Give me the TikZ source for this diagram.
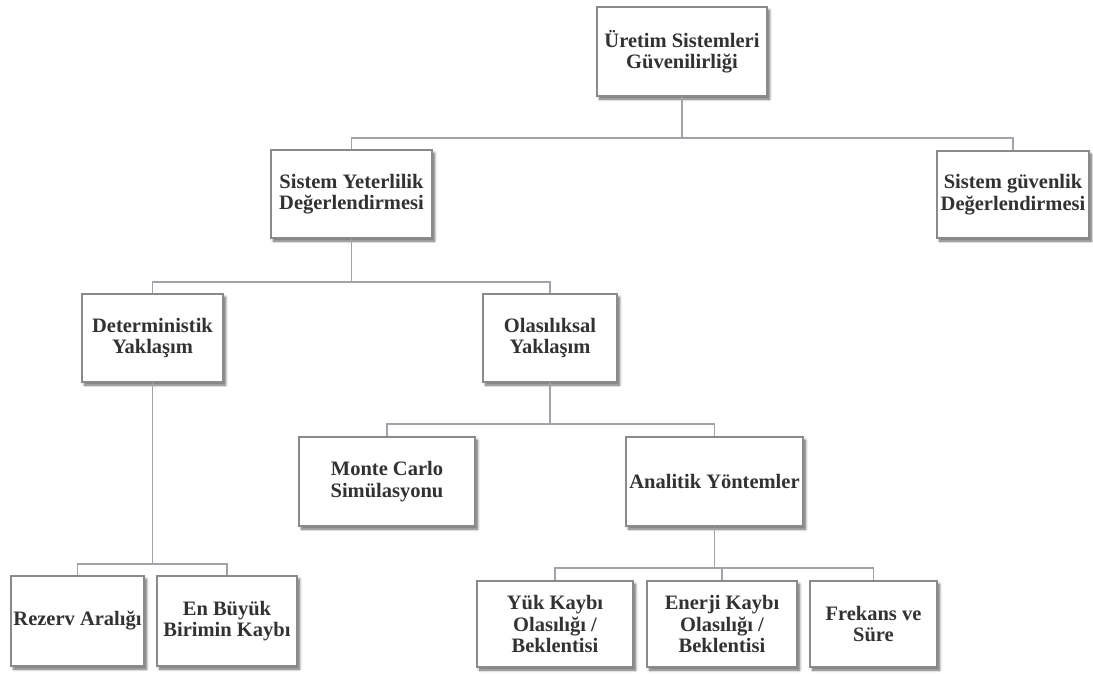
\documentclass[tikz,border=0pt]{standalone}
\usepackage{fontspec}
\setmainfont{Liberation Serif}
\usetikzlibrary{shadows.blur}
\definecolor{boxline}{RGB}{138,138,138}
\definecolor{linkline}{RGB}{160,164,168}
\definecolor{boxtext}{RGB}{50,50,50}
\tikzset{
  box/.style={draw=boxline, line width=1.1pt, fill=white, align=center,
    text=boxtext, inner sep=2pt,
    font=\bfseries\fontsize{20.5}{21.5}\selectfont,
    blur shadow={shadow xshift=2.5pt, shadow yshift=-3pt, shadow blur steps=6,
      shadow blur radius=2.5pt, shadow opacity=60}},
  link/.style={draw=linkline, line width=1.3pt}
}
\begin{document}
\begin{tikzpicture}[x=1pt, y=-1pt]
  \useasboundingbox (0,0) rectangle (1093,673);

  % bus heights of the tree connectors
  \coordinate (bus1) at (0,138);
  \coordinate (bus2) at (0,282);
  \coordinate (bus3) at (0,424);
  \coordinate (bus4) at (0,564);
  \coordinate (bus5) at (0,568);

  % level 0
  \node[box, minimum width=170pt, minimum height=89pt] (root) at (682,51.5)
    {Üretim Sistemleri\\Güvenilirliği};

  % level 1
  \node[box, minimum width=161pt, minimum height=88pt] (syd) at (351.5,194)
    {Sistem Yeterlilik\\Değerlendirmesi};
  \node[box, minimum width=152pt, minimum height=87pt] (sgd) at (1013,194.5)
    {Sistem güvenlik\\Değerlendirmesi};

  % level 2
  \node[box, minimum width=141pt, minimum height=88pt] (det) at (152.5,338)
    {Deterministik\\Yaklaşım};
  \node[box, minimum width=134pt, minimum height=88pt] (ola) at (550,338)
    {Olasılıksal\\Yaklaşım};

  % level 3
  \node[box, minimum width=176pt, minimum height=89pt] (mc) at (387,481.5)
    {Monte Carlo\\Simülasyonu};
  \node[box, minimum width=177pt, minimum height=89pt] (an) at (714.5,481.5)
    {Analitik Yöntemler};

  % leaves
  \node[box, minimum width=133pt, minimum height=90pt] (rez) at (77.5,621)
    {Rezerv Aralığı};
  \node[box, minimum width=140pt, minimum height=90pt] (ebk) at (227,621)
    {En Büyük\\Birimin Kaybı};
  \node[box, minimum width=156pt, minimum height=86pt] (yuk) at (555,624)
    {Yük Kaybı\\Olasılığı /\\Beklentisi};
  \node[box, minimum width=150pt, minimum height=86pt] (ene) at (722,624)
    {Enerji Kaybı\\Olasılığı /\\Beklentisi};
  \node[box, minimum width=127pt, minimum height=86pt] (fre) at (873.5,624)
    {Frekans ve\\Süre};

  % connectors: parent down to a bus, along the bus, down to each child
  \draw[link] (root.south) -- (root.south |- bus1) -| (syd.north);
  \draw[link] (root.south |- bus1) -| (sgd.north);

  \draw[link] (syd.south) -- (syd.south |- bus2) -| (det.north);
  \draw[link] (syd.south |- bus2) -| (ola.north);

  \draw[link] (ola.south) -- (ola.south |- bus3) -| (mc.north);
  \draw[link] (ola.south |- bus3) -| (an.north);

  \draw[link] (det.south) -- (det.south |- bus4) -| (rez.north);
  \draw[link] (det.south |- bus4) -| (ebk.north);

  \draw[link] (an.south) -- (an.south |- bus5) -| (yuk.north);
  \draw[link] (an.south |- bus5) -| (ene.north);
  \draw[link] (an.south |- bus5) -| (fre.north);
\end{tikzpicture}
\end{document}
